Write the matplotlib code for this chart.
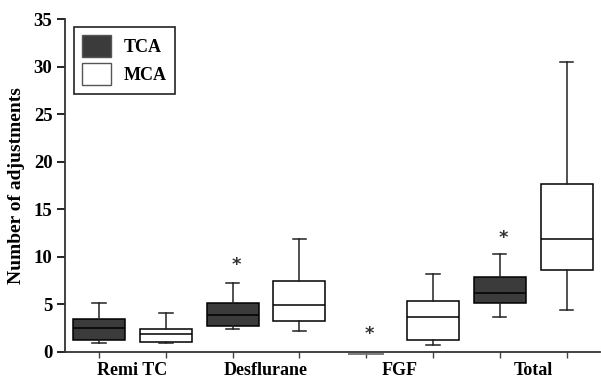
import matplotlib.pyplot as plt
from matplotlib.patches import Patch

plt.rcParams['font.family'] = ['Liberation Serif', 'DejaVu Serif']
plt.rcParams['font.weight'] = 'bold'

categories = ['Remi TC', 'Desflurane', 'FGF', 'Total']
groups = ['TCA', 'MCA']

# five-number summaries: whislo, q1, med, q3, whishi
tca_stats = [
    [0.9, 1.26, 2.56, 3.47, 5.1],
    [2.38, 2.73, 3.86, 5.15, 7.29],
    [-0.2, -0.2, -0.2, -0.2, -0.2],
    [3.68, 5.12, 6.24, 7.85, 10.27],
]
mca_stats = [
    [0.9, 1.08, 1.86, 2.38, 4.07],
    [2.2, 3.3, 4.98, 7.5, 11.9],
    [0.74, 1.3, 3.65, 5.33, 8.23],
    [4.42, 8.62, 11.88, 17.7, 30.5],
]
# asterisks (significant difference) above the TCA boxes
star_y = [None, 9.1, 1.9, 12.0]

tca_color = '#3b3b3b'
mca_color = 'white'


def to_bxp(vals):
    lo, q1, med, q3, hi = vals
    return dict(whislo=lo, q1=q1, med=med, q3=q3, whishi=hi, fliers=[])


fig = plt.figure(figsize=(6.01, 3.79), dpi=100)
ax = fig.add_axes([65 / 601, 27 / 379, 535 / 601, 333 / 379])

pos_tca = [1 + 2 * i for i in range(len(categories))]
pos_mca = [2 + 2 * i for i in range(len(categories))]

lw = 1.1
common = dict(patch_artist=True, showfliers=False,
              medianprops=dict(color='black', lw=lw),
              whiskerprops=dict(color='#222222', lw=lw),
              capprops=dict(color='#222222', lw=lw),
              manage_ticks=False)
b1 = ax.bxp([to_bxp(s) for s in tca_stats], positions=pos_tca,
            widths=[0.78, 0.78, 0.54, 0.78], **common)
b2 = ax.bxp([to_bxp(s) for s in mca_stats], positions=pos_mca, widths=0.78, **common)
for b, c in ((b1, tca_color), (b2, mca_color)):
    for box in b['boxes']:
        box.set_facecolor(c)
        box.set_edgecolor('black')
        box.set_linewidth(lw)
    for cap in b['caps']:
        x = cap.get_xdata()
        m = (x[0] + x[1]) / 2
        cap.set_xdata([m - 0.1, m + 0.1])

# the flat FGF/TCA box sits just below the axis line
b1['boxes'][2].set_edgecolor('#777777')
b1['boxes'][2].set_clip_on(False)
b1['medians'][2].set_color('#777777')
b1['medians'][2].set_clip_on(False)
for art in b1['whiskers'][4:6] + b1['caps'][4:6]:
    art.set_visible(False)

for p, y in zip(pos_tca, star_y):
    if y is not None:
        ax.text(p + 0.05, y, '*', ha='center', va='center', fontsize=13,
                color='#333333', family='DejaVu Sans')

ax.set_xlim(0.49, 8.5)
ax.set_ylim(0, 35)
ax.set_yticks(range(0, 36, 5))
ax.set_xticks(pos_tca + pos_mca)
ax.set_xticklabels([])
ax.set_xticks([1.5 + 2 * i for i in range(len(categories))], minor=True)
ax.set_xticklabels(categories, minor=True)
ax.tick_params(axis='x', which='minor', length=0, pad=7, labelsize=13)
ax.tick_params(axis='x', which='major', length=4, width=1, color='#444444')
ax.tick_params(axis='y', length=6, width=1.2, labelsize=13.5, pad=3)
for t in ax.get_yticklabels():
    t.set_fontweight('bold')
for t in ax.get_xticklabels(minor=True):
    t.set_fontweight('bold')

ax.spines['top'].set_visible(False)
ax.spines['right'].set_visible(False)
ax.spines['left'].set_linewidth(1.3)
ax.spines['bottom'].set_linewidth(1.3)
ax.spines['left'].set_color('#333333')
ax.spines['bottom'].set_color('#333333')

ax.set_ylabel('Number of adjustments', fontsize=14, fontweight='bold', labelpad=6)

handles = [Patch(facecolor=tca_color, edgecolor='#555555', label=groups[0]),
           Patch(facecolor=mca_color, edgecolor='#555555', label=groups[1])]
leg = ax.legend(handles=handles, loc='upper left', bbox_to_anchor=(0.017, 0.976),
                borderaxespad=0, fancybox=False, edgecolor='#222222', framealpha=1,
                prop=dict(family='Liberation Serif', weight='bold', size=13),
                handlelength=1.6, handleheight=1.5, borderpad=0.45,
                labelspacing=0.35, handletextpad=0.7)
leg.get_frame().set_linewidth(1.2)

fig.savefig('out.png', dpi=100)
